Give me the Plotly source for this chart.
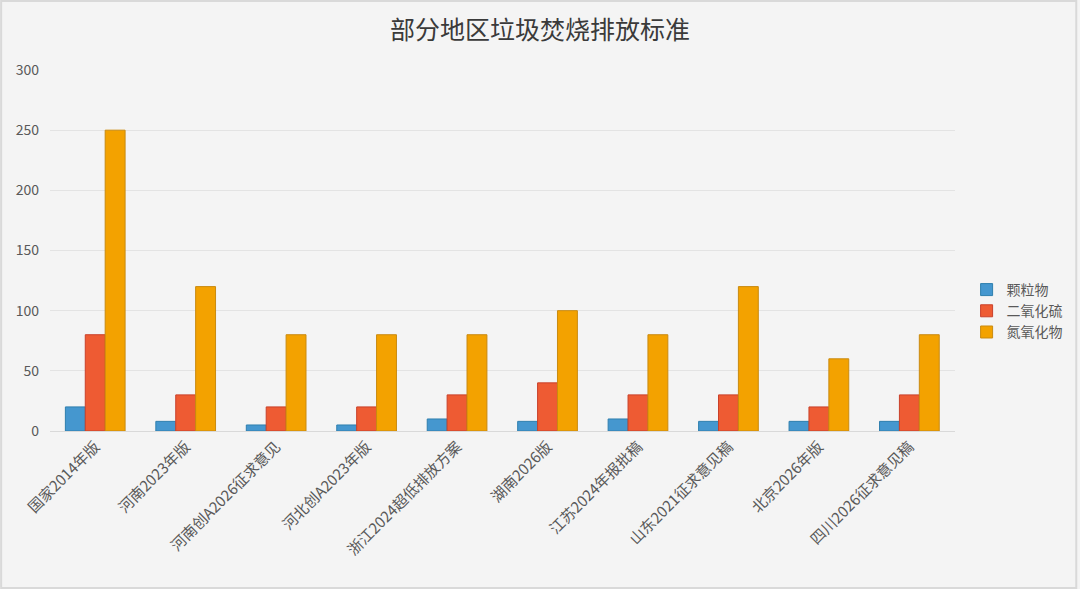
import plotly.graph_objects as go

regions = ['国家2014年版', '河南2023年版', '河南创A2026征求意见', '河北创A2023年版',
           '浙江2024超低排放方案', '湖南2026版', '江苏2024年报批稿',
           '山东2021征求意见稿', '北京2026年版', '四川2026征求意见稿']
pm = [20, 8, 5, 5, 10, 8, 10, 8, 8, 8]
so2 = [80, 30, 20, 20, 30, 40, 30, 30, 20, 30]
nox = [250, 120, 80, 80, 80, 100, 80, 120, 60, 80]
y_ticks = [0, 50, 100, 150, 200, 250, 300]

font = 'Noto Sans CJK SC'

fig = go.Figure()
fig.add_trace(go.Bar(x=regions, y=pm, name='颗粒物',
                     marker=dict(color='#4597cf', line=dict(color='#2f7fae', width=1))))
fig.add_trace(go.Bar(x=regions, y=so2, name='二氧化硫',
                     marker=dict(color='#ee5b33', line=dict(color='#c9402a', width=1))))
fig.add_trace(go.Bar(x=regions, y=nox, name='氮氧化物',
                     marker=dict(color='#f3a200', line=dict(color='#c98a10', width=1))))

fig.update_layout(
    width=1080, height=589,
    title=dict(text='部分地区垃圾焚烧排放标准', x=0.5, xanchor='center', y=0.949, yanchor='middle',
               font=dict(family=font, size=25, color='#3a3a3a')),
    font=dict(family=font, color='#595959'),
    paper_bgcolor='#f4f4f4', plot_bgcolor='#f4f4f4',
    margin=dict(l=50, r=123, t=70, b=158),
    barmode='group', bargap=0.34, bargroupgap=0,
    legend=dict(xref='container', yref='container', x=0.895, y=0.472,
                xanchor='left', yanchor='middle', itemwidth=30,
                font=dict(size=14, color='#595959'), tracegroupgap=4),
    showlegend=True,
    shapes=[dict(type='rect', xref='paper', yref='paper', x0=-49 / 907, x1=1 + 122 / 907,
                 y0=-157 / 361, y1=1 + 69 / 361, line=dict(color='#d9d9d9', width=2))],
)
fig.update_xaxes(tickangle=-45, tickfont=dict(size=15, color='#595959'),
                 showline=True, linecolor='#d9d9d9', linewidth=1, ticks='')
fig.update_yaxes(range=[0, 300], tickvals=y_ticks, tickfont=dict(size=14, color='#595959'),
                 showgrid=True, gridcolor='#e3e3e3', zeroline=False, ticklabelstandoff=10)

fig.write_html('out.html', config={'displayModeBar': False},
               post_script="document.body.style.margin='0';")
